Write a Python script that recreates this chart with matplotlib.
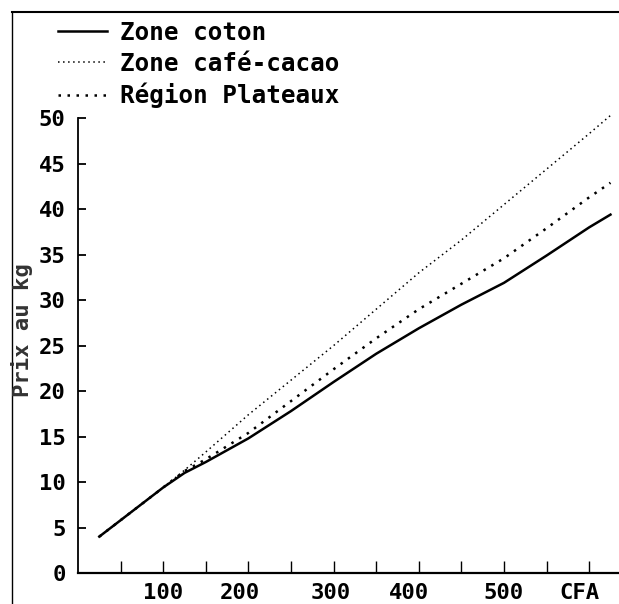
import matplotlib
matplotlib.use("Agg")
import matplotlib.pyplot as plt
from matplotlib.lines import Line2D
from matplotlib.transforms import ScaledTranslation

# valeurs (prix en CFA -> prix au kg)
cfa = [25, 50, 100, 125, 150, 200, 250, 300, 350, 400, 450, 500, 550, 600, 625]
coton = [4.0, 5.8, 9.4, 11.0, 12.2, 14.8, 17.8, 21.0, 24.1, 26.9, 29.5, 31.9, 34.9, 38.0, 39.4]
cafe_cacao = [4.0, 5.8, 9.4, 11.3, 13.3, 17.4, 21.2, 25.0, 29.0, 33.0, 36.6, 40.5, 44.4, 48.3, 50.3]
plateaux = [4.0, 5.8, 9.4, 11.2, 12.5, 15.4, 18.9, 22.4, 25.8, 29.0, 31.8, 34.6, 37.9, 41.3, 42.9]

xticks = [100, 200, 300, 400, 500, 600]
xlabels = ["100", "200", "300", "400", "500", "CFA"]
# petit décalage des étiquettes vers la gauche (en pixels), comme sur l'original
xlabel_shift = [0, -9, -3, -10, 0, -10]
xminor = [50, 150, 250, 350, 450, 550]
yticks = [0, 5, 10, 15, 20, 25, 30, 35, 40, 45, 50]

font = "DejaVu Sans Mono"

fig = plt.figure(figsize=(6.19, 6.04), dpi=100)
ax = fig.add_axes([78 / 619, 31 / 604, 541 / 619, 473 / 604])

ax.plot(cfa, coton, color="black", lw=1.8, label="Zone coton")
ax.plot(cfa, cafe_cacao, color="black", lw=1.1, dashes=(1, 2.3), label="Zone café-cacao")
ax.plot(cfa, plateaux, color="black", lw=1.8, dashes=(1, 2.6), label="Région Plateaux")

ax.set_xlim(0, 635)
ax.set_ylim(0, 52)

ax.spines["top"].set_visible(False)
ax.spines["right"].set_visible(False)
ax.spines["left"].set_bounds(0, 50)
ax.spines["left"].set_linewidth(1.3)
ax.spines["bottom"].set_linewidth(1.6)

ax.set_xticks(xticks)
ax.set_xticklabels(xlabels)
ax.set_xticks(xminor, minor=True)
ax.set_yticks(yticks)
ax.tick_params(axis="x", which="both", direction="in", length=9, width=1.0, pad=7)
ax.tick_params(axis="y", direction="in", length=6, width=1.3, pad=9)
for lab in ax.get_xticklabels() + ax.get_yticklabels():
    lab.set_fontfamily(font)
    lab.set_fontweight("bold")
    lab.set_fontsize(16)
for lab, dx in zip(ax.get_xticklabels(), xlabel_shift):
    lab.set_transform(lab.get_transform() + ScaledTranslation(dx / 100, 0, fig.dpi_scale_trans))

fig.text(22 / 619, 1 - 330 / 604, "Prix au kg", rotation=90, ha="center", va="center",
         fontfamily=font, fontweight="bold", fontsize=16, color="#333333")

leg = fig.legend(loc="upper left", bbox_to_anchor=(58 / 619, 1 - 21 / 604), frameon=False,
                 prop={"family": font, "weight": "bold", "size": 17.5},
                 handlelength=2.0, handletextpad=0.55, labelspacing=0.28, borderpad=0,
                 borderaxespad=0)

# cadre de la page scannée
fig.add_artist(Line2D([12 / 619, 1], [1 - 12 / 604, 1 - 12 / 604], color="black", lw=1.5))
fig.add_artist(Line2D([12 / 619, 12 / 619], [0, 1 - 12 / 604], color="black", lw=1.0))

fig.savefig("out.png", dpi=100)
